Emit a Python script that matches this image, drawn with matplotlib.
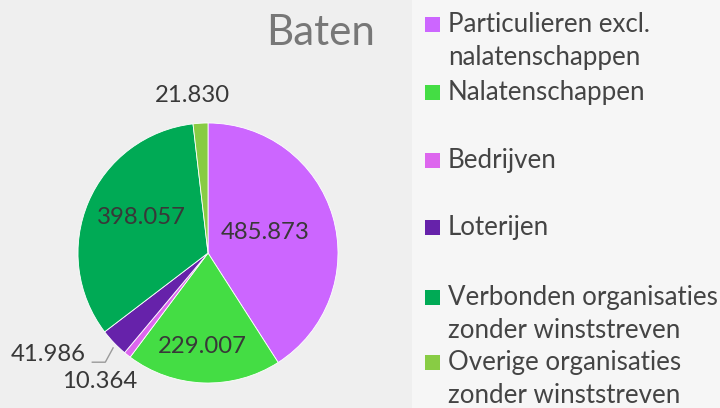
import matplotlib.pyplot as plt
from matplotlib.patches import Rectangle

categories = ["Particulieren excl.\nnalatenschappen", "Nalatenschappen", "Bedrijven",
              "Loterijen", "Verbonden organisaties\nzonder winststreven",
              "Overige organisaties\nzonder winststreven"]
values = [485.873, 229.007, 10.364, 41.986, 398.057, 21.830]
value_labels = ["485.873", "229.007", "10.364", "41.986", "398.057", "21.830"]
colors = ["#CC66FF", "#44DD44", "#DD66EE", "#6622AA", "#00AA55", "#88CC44"]
title = "Baten"

W, H = 720, 408
fig = plt.figure(figsize=(7.2, 4.08), dpi=100)
fig.patch.set_facecolor("#efefef")
plt.rcParams['font.family'] = ['Lato', 'DejaVu Sans']

# legend panel background
fig.add_artist(Rectangle((412 / W, 0), 1 - 412 / W, 1, transform=fig.transFigure,
                         facecolor="#f6f6f6", edgecolor="none", zorder=0))

cx, cy, r = 208, 253, 130
ax = fig.add_axes([(cx - r) / W, (H - cy - r) / H, 2 * r / W, 2 * r / H])
ax.set_facecolor("none")
wedges, _ = ax.pie(values, colors=colors, startangle=90, counterclock=False,
                   wedgeprops=dict(edgecolor="white", linewidth=0.6))
ax.set_xlim(-1, 1)
ax.set_ylim(-1, 1)
ax.set_aspect("equal")
ax.axis("off")

renderer = fig.canvas.get_renderer()


def fit(t, target_px):
    bb = t.get_window_extent(renderer)
    t.set_fontsize(t.get_fontsize() * target_px / bb.width)
    return t.get_fontsize()


# value labels (positions in pie units)
label_pos = [(0.44, 0.16), (-0.04, -0.72), (-0.83, -0.99), (-1.23, -0.78),
             (-0.515, 0.27), (-0.12, 1.21)]
vtexts = []
for lab, (x, y) in zip(value_labels, label_pos):
    vtexts.append(ax.text(x, y, lab, ha="center", va="center", fontsize=16,
                          color="#383838", clip_on=False))
vfs = fit(vtexts[0], 89)
for t in vtexts:
    t.set_fontsize(vfs)

# leader line for Loterijen
ax.plot([-0.89, -0.79, -0.73], [-0.84, -0.84, -0.73], color="#9a9a9a", lw=1,
        clip_on=False)

tt = fig.text(321 / W, 1 - 33 / H, title, ha="center", va="center", fontsize=30,
              color="#777777")
fit(tt, 109)

# manual legend (baseline of first line, px from top)
legend_base = [32, 100, 168, 235, 305, 370]
line_gap = 33
ltexts = []
for lab, col, yb in zip(categories, colors, legend_base):
    fig.add_artist(Rectangle((425 / W, 1 - yb / H), 15 / W, 15 / H,
                             transform=fig.transFigure, facecolor=col,
                             edgecolor="none"))
    for i, line in enumerate(lab.split("\n")):
        ltexts.append(fig.text(448 / W, 1 - (yb + i * line_gap) / H, line,
                               ha="left", va="baseline", fontsize=17,
                               color="#444444"))
lfs = fit(ltexts[0], 202)
for t in ltexts:
    t.set_fontsize(lfs)

fig.savefig("out.png", dpi=100, facecolor=fig.get_facecolor())
